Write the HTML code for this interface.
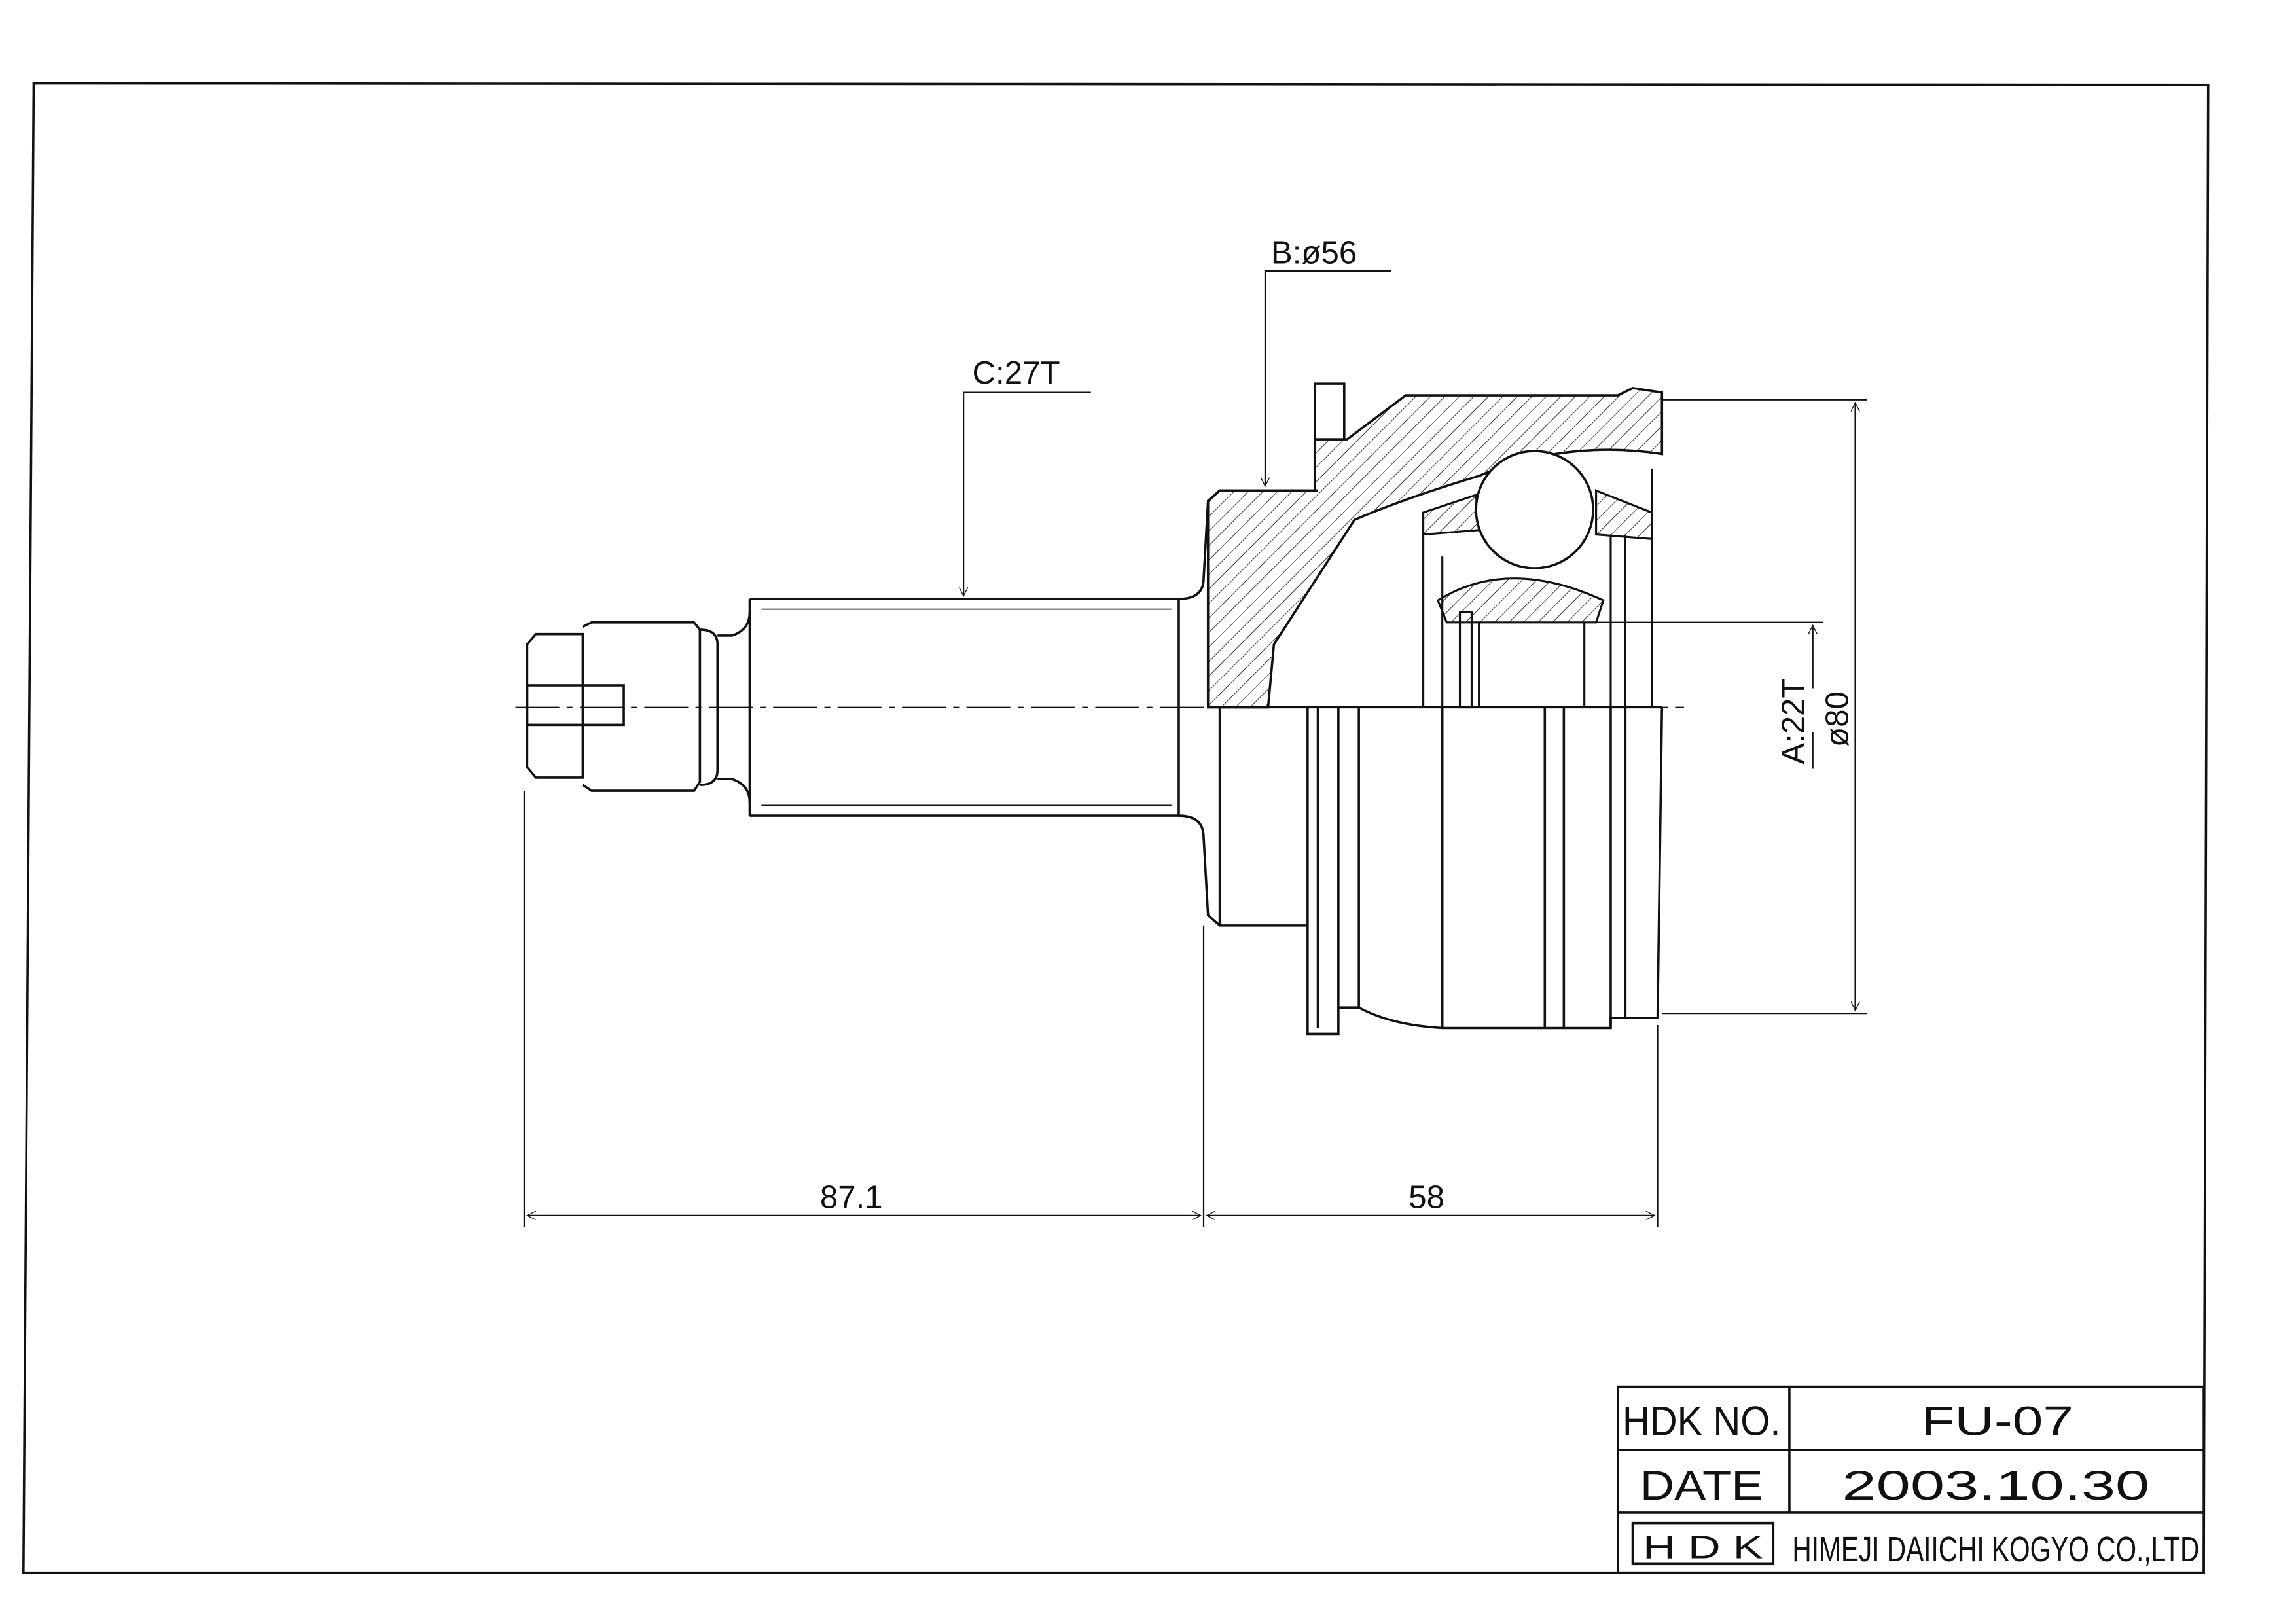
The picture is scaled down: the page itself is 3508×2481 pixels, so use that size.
<!DOCTYPE html>
<html><head><meta charset="utf-8"><style>
html,body{margin:0;padding:0;background:#fff;}
svg{display:block;}
text{font-family:"Liberation Sans",sans-serif;fill:#111;}
</style></head><body>
<svg width="3508" height="2481" viewBox="0 0 1568 1109" preserveAspectRatio="none" xmlns="http://www.w3.org/2000/svg">
<defs>
<pattern id="h" width="7" height="7" patternUnits="userSpaceOnUse" patternTransform="rotate(45)">
<line x1="0" y1="0" x2="0" y2="7" stroke="#222" stroke-width="0.8"/>
</pattern>
<marker id="a" viewBox="0 0 10 10" refX="10" refY="5" markerWidth="12" markerHeight="6" orient="auto-start-reverse" markerUnits="userSpaceOnUse"><path d="M0,0 L10,5 L0,10" fill="none" stroke="#111" stroke-width="1"/></marker>
</defs>
<g fill="none" stroke="#111" stroke-width="1.6">
<!-- border -->
<path d="M23,57 L1508,58 L1505,1074 L16,1074 Z"/>
<!-- title block -->
<rect x="1105" y="947" width="400" height="127"/>
<line x1="1105" y1="990" x2="1505" y2="990"/>
<line x1="1105" y1="1033" x2="1505" y2="1033"/>
<line x1="1222" y1="947" x2="1222" y2="1033"/>
<rect x="1115" y="1040" width="96" height="28"/>
<!-- shaft nose -->
<path d="M360,440 L366,433 L398,433 L398,531 L366,531 L360,524 Z"/>
<path d="M398,428 L404,425 L474,425 L478,430 L478,534 L474,540 L404,540 L398,536"/>
<rect x="360" y="468" width="66" height="27"/>
<path d="M478,430 Q490,430 490,440 L490,526 Q490,536 478,536"/>
<path d="M490,434 L500,434 Q512,430 512,418 M490,532 L500,532 Q512,536 512,548"/>
<path d="M512,409 L805,409 Q822,409 822,395 L825,342 L833,335 L900,335"/>
<path d="M512,557 L805,557 Q822,557 822,572 L825,625 L833,632 L893,632"/>
<line x1="512" y1="409" x2="512" y2="557"/>
<line x1="805" y1="409" x2="805" y2="557"/>
<line x1="520" y1="416" x2="800" y2="416" stroke-width="0.8"/>
<line x1="520" y1="550" x2="800" y2="550" stroke-width="0.8"/>
<!-- lower body -->
<line x1="833" y1="483" x2="833" y2="632"/>
<path d="M893,483 L893,706 L914,706 L914,688 L928,688 Q950,700 985,702 L1100,702 L1100,695 L1132,695 L1135,483"/>
<line x1="900" y1="483" x2="900" y2="702"/>
<line x1="914" y1="483" x2="914" y2="688"/>
<line x1="928" y1="483" x2="928" y2="688"/>
<line x1="985" y1="483" x2="985" y2="702"/>
<line x1="1055" y1="483" x2="1055" y2="702"/>
<line x1="1068" y1="483" x2="1068" y2="702"/>
<line x1="1100" y1="483" x2="1100" y2="702"/>
<line x1="1110" y1="483" x2="1110" y2="695"/>
</g>
<!-- upper hatched section -->
<path d="M825,342 L833,335 L898,335 L898,300 L920,300 L960,270 L1105,270 L1115,265 L1135,268 L1135,310 Q1070,300 1010,325 Q960,340 925,355 L870,440 L866,483 L825,483 Z" fill="url(#h)" stroke="#111" stroke-width="1.6"/>
<path d="M898,262 L918,262 L918,300 L898,300 Z" fill="none" stroke="#111" stroke-width="1.6"/>
<path d="M972,350 L1008,338 L1010,362 L972,365 Z" fill="url(#h)" stroke="#111" stroke-width="1.4"/>
<path d="M1090,335 L1128,350 L1128,368 L1090,365 Z" fill="url(#h)" stroke="#111" stroke-width="1.4"/>
<path d="M982,410 Q1030,380 1095,410 L1090,425 L988,425 Z" fill="url(#h)" stroke="#111" stroke-width="1.4"/>
<circle cx="1048" cy="348" r="40" fill="#fff" stroke="#111" stroke-width="1.6"/>
<g fill="none" stroke="#111" stroke-width="1.4">
<line x1="972" y1="365" x2="972" y2="483"/>
<line x1="985" y1="380" x2="985" y2="483"/>
<line x1="1100" y1="365" x2="1100" y2="483"/>
<line x1="1110" y1="365" x2="1110" y2="483"/>
<line x1="1128" y1="320" x2="1128" y2="483"/>
<rect x="997" y="418" width="8" height="65"/>
<line x1="1010" y1="425" x2="1010" y2="483"/>
<line x1="1082" y1="425" x2="1082" y2="483"/>
<line x1="833" y1="483" x2="1135" y2="483"/>
</g>
<!-- centerline -->
<line x1="352" y1="483" x2="1150" y2="483" stroke="#111" stroke-width="0.8" stroke-dasharray="30,5,4,5"/>
<!-- dims -->
<g fill="none" stroke="#111" stroke-width="1">
<line x1="358" y1="540" x2="358" y2="838"/>
<line x1="822" y1="632" x2="822" y2="838"/>
<line x1="1132" y1="700" x2="1132" y2="838"/>
<line x1="360" y1="830" x2="820" y2="830" marker-start="url(#a)" marker-end="url(#a)"/>
<line x1="824" y1="830" x2="1130" y2="830" marker-start="url(#a)" marker-end="url(#a)"/>
<line x1="1135" y1="273" x2="1275" y2="273"/>
<line x1="1135" y1="692" x2="1275" y2="692"/>
<line x1="1267" y1="275" x2="1267" y2="690" marker-start="url(#a)" marker-end="url(#a)"/>
<line x1="1090" y1="425" x2="1245" y2="425"/>
<line x1="1238" y1="427" x2="1238" y2="470" marker-start="url(#a)"/>
<line x1="1238" y1="500" x2="1238" y2="525"/>
<polyline points="745,268 658,268 658,407" marker-end="url(#a)"/>
<polyline points="950,185 864,185 864,332" marker-end="url(#a)"/>
</g>
<g font-size="22">
<text x="664" y="262">C:27T</text>
<text x="868" y="180">B:ø56</text>
<text x="560" y="825">87.1</text>
<text x="962" y="825">58</text>
<text transform="translate(1232,522) rotate(-90)">A:22T</text>
<text transform="translate(1262,510) rotate(-90)">ø80</text>
</g>
<g font-size="28">
<text x="1108" y="980" textLength="108" lengthAdjust="spacingAndGlyphs">HDK NO.</text>
<text x="1312" y="980" textLength="104" lengthAdjust="spacingAndGlyphs">FU-07</text>
<text x="1120" y="1024" textLength="84" lengthAdjust="spacingAndGlyphs">DATE</text>
<text x="1258" y="1024" textLength="210" lengthAdjust="spacingAndGlyphs">2003.10.30</text>
<text x="1122" y="1064" font-size="22" textLength="82" lengthAdjust="spacingAndGlyphs">H D K</text>
<text x="1224" y="1066" font-size="24" textLength="278" lengthAdjust="spacingAndGlyphs">HIMEJI DAIICHI KOGYO CO.,LTD</text>
</g>
</svg>
</body></html>
